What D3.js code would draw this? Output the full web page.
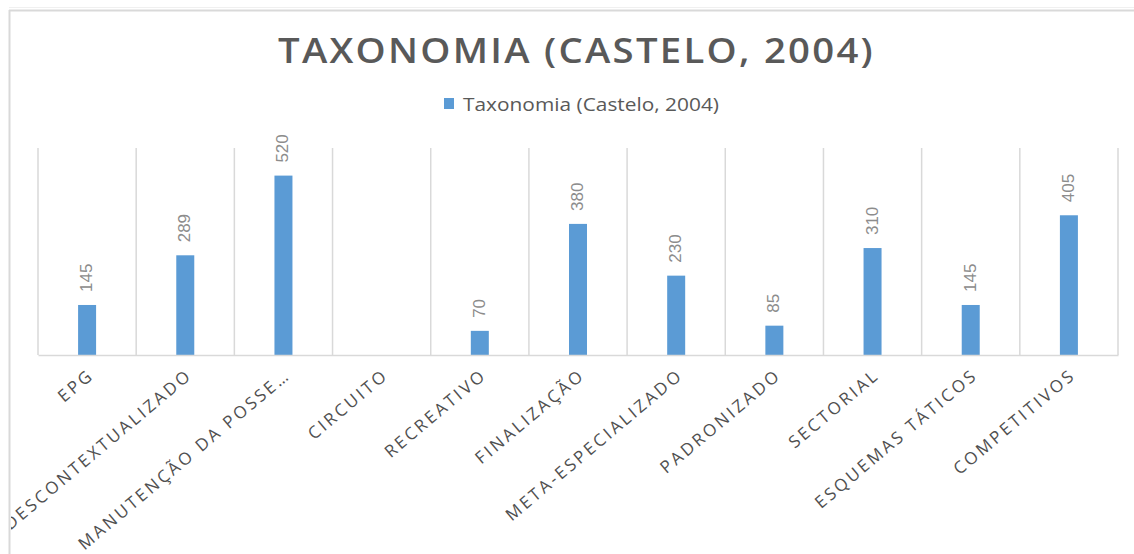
<!DOCTYPE html>
<html>
<head>
<meta charset="utf-8">
<script src="https://cdn.jsdelivr.net/npm/d3@7"></script>
<style>
  html, body { margin: 0; padding: 0; background: #ffffff; }
  svg { display: block; }
</style>
</head>
<body>
<svg id="chart" width="1134" height="554"></svg>
<script>
// Counts per taxonomy category
const categories = [
  "EPG", "DESCONTEXTUALIZADO", "MANUTENÇÃO DA POSSE…", "CIRCUITO",
  "RECREATIVO", "FINALIZAÇÃO", "META-ESPECIALIZADO", "PADRONIZADO",
  "SECTORIAL", "ESQUEMAS TÁTICOS", "COMPETITIVOS"
];
const values = [145, 289, 520, null, 70, 380, 230, 85, 310, 145, 405];
const seriesName = "Taxonomia (Castelo, 2004)";
const chartTitle = "TAXONOMIA (CASTELO, 2004)";
const yMax = 600;

const svg = d3.select("#chart");
const W = 1134, H = 554;
const plot = { left: 38, right: 1118, top: 148, bottom: 355 };

// chart frame
svg.append("line").attr("x1", 9).attr("x2", W).attr("y1", 7.5).attr("y2", 7.5)
  .attr("stroke", "#f0f0f0").attr("stroke-width", 1);
svg.append("line").attr("x1", 9).attr("x2", W).attr("y1", 10.5).attr("y2", 10.5)
  .attr("stroke", "#d9d9d9").attr("stroke-width", 2);
svg.append("line").attr("x1", 9.5).attr("x2", 9.5).attr("y1", 10).attr("y2", H)
  .attr("stroke", "#d9d9d9").attr("stroke-width", 2);

const defs = svg.append("defs");
defs.append("clipPath").attr("id", "area")
  .append("rect").attr("x", 11).attr("y", 11).attr("width", W - 11).attr("height", H - 11);

// title
svg.append("text")
  .attr("x", 576.5).attr("y", 63)
  .attr("text-anchor", "middle")
  .attr("font-family", "'Open Sans', sans-serif")
  .attr("font-weight", 600)
  .attr("font-size", 34)
  .attr("letter-spacing", 2)
  .attr("fill", "#595959")
  .attr("textLength", 597)
  .attr("lengthAdjust", "spacingAndGlyphs")
  .text(chartTitle);

// legend
const legend = svg.append("g");
legend.append("rect").attr("x", 444).attr("y", 98).attr("width", 10).attr("height", 11)
  .attr("fill", "#5b9bd5");
legend.append("text")
  .attr("x", 463).attr("y", 111)
  .attr("font-family", "'Open Sans', sans-serif")
  .attr("font-size", 18)
  .attr("fill", "#595959")
  .attr("textLength", 256)
  .attr("lengthAdjust", "spacingAndGlyphs")
  .text(seriesName);

// scales
const x = d3.scaleBand().domain(categories).range([plot.left, plot.right]).paddingInner(0).paddingOuter(0);
const y = d3.scaleLinear().domain([0, yMax]).range([plot.bottom, plot.top]);

// vertical gridlines at category boundaries
const bounds = categories.map(c => x(c)).concat([plot.right]);
svg.append("g").selectAll("line").data(bounds).join("line")
  .attr("x1", d => d).attr("x2", d => d)
  .attr("y1", plot.top).attr("y2", plot.bottom)
  .attr("stroke", "#d9d9d9").attr("stroke-width", 1.5);

// bars
const barW = 18;
const present = categories.map((c, i) => ({ c, v: values[i] })).filter(d => d.v != null);
svg.append("g").selectAll("rect").data(present).join("rect")
  .attr("x", d => x(d.c) + x.bandwidth() / 2 - barW / 2)
  .attr("y", d => y(d.v))
  .attr("width", barW)
  .attr("height", d => y(0) - y(d.v))
  .attr("fill", "#5b9bd5");

// category axis line
const xAxis = d3.axisBottom(x).tickSize(0).tickFormat("");
svg.append("g").attr("transform", `translate(0,${plot.bottom})`).call(xAxis)
  .call(g => g.select(".domain").attr("stroke", "#d9d9d9").attr("stroke-width", 1.5));

// data labels, vertical
svg.append("g").selectAll("text").data(present).join("text")
  .attr("transform", d => `translate(${x(d.c) + x.bandwidth() / 2 + 5},${y(d.v) - 13}) rotate(-90)`)
  .attr("font-family", "'Liberation Sans Narrow', 'Liberation Sans', sans-serif")
  .attr("font-size", 17)
  .attr("fill", "#8c8c8c")
  .text(d => d.v);

// rotated category labels (long ones run past the frame edge and are clipped)
svg.append("g").attr("clip-path", "url(#area)")
  .selectAll("text").data(categories).join("text")
  .attr("transform", c => `translate(${x(c) + x.bandwidth() / 2 + 8},${plot.bottom + 22}) rotate(-40)`)
  .attr("text-anchor", "end")
  .attr("font-family", "'Open Sans', sans-serif")
  .attr("font-size", 17)
  .attr("letter-spacing", 2.8)
  .attr("fill", "#505050")
  .text(c => c);
</script>
</body>
</html>
